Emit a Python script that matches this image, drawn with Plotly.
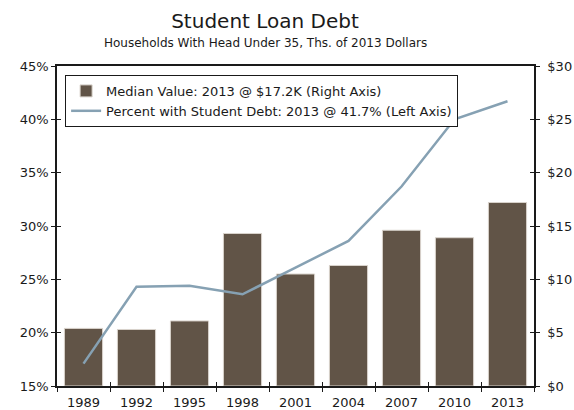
import plotly.graph_objects as go

years = ["1989", "1992", "1995", "1998", "2001", "2004", "2007", "2010", "2013"]
median_value = [5.4, 5.3, 6.1, 14.3, 10.5, 11.3, 14.6, 13.9, 17.2]      # $ thousands
pct_with_debt = [17.1, 24.3, 24.4, 23.6, 26.1, 28.6, 33.7, 40.0, 41.7]  # percent

left_ticks = [15, 20, 25, 30, 35, 40, 45]
left_labels = [f"{v}%" for v in left_ticks]
right_ticks = [0, 5, 10, 15, 20, 25, 30]
right_labels = [f"${v}" for v in right_ticks]

FONT = "DejaVu Sans, Verdana, sans-serif"
BAR = "#615447"
LINE = "#86a1b3"
INK = "#1a1a1a"

W, H = 574, 410
M_L, M_R, M_T, M_B = 57, 40, 66, 24
PLOT_W = W - M_L - M_R
PLOT_H = H - M_T - M_B
TITLE_CX = (265 - M_L) / PLOT_W   # heading block centre, in plot fractions

fig = go.Figure()
# bars on the dollar (right) axis, which is the base axis so the line draws above
fig.add_trace(go.Bar(
    x=years, y=median_value, yaxis="y", width=0.72,
    marker=dict(color=BAR, line=dict(color="#d9d3cc", width=1)),
    name="Median Value: 2013 @ $17.2K (Right Axis)",
))
fig.add_trace(go.Scatter(
    x=years, y=pct_with_debt, yaxis="y2", mode="lines",
    line=dict(color=LINE, width=2.5),
    name="Percent with Student Debt: 2013 @ 41.7% (Left Axis)",
))
# invisible helpers carrying the inner half of the crossing tick marks
fig.add_trace(go.Scatter(x=years, y=pct_with_debt, yaxis="y3", xaxis="x2",
                         mode="none", showlegend=False, hoverinfo="skip"))
fig.add_trace(go.Scatter(x=years, y=median_value, yaxis="y4", xaxis="x2",
                         mode="none", showlegend=False, hoverinfo="skip"))

common_tick = dict(ticklen=4, tickwidth=1, tickcolor=INK, showgrid=False,
                   zeroline=False, automargin=False)

fig.update_layout(
    width=W, height=H,
    margin=dict(l=M_L, r=M_R, t=M_T, b=M_B, autoexpand=False),
    paper_bgcolor="white", plot_bgcolor="white",
    font=dict(family=FONT, size=13, color=INK),
    title=dict(
        text="Student Loan Debt",
        x=TITLE_CX, xanchor="center", xref="paper",
        y=1 - 21 / H, yanchor="middle", yref="container",
        font=dict(family=FONT, size=20, color=INK),
    ),
    annotations=[dict(
        text="Households With Head Under 35, Ths. of 2013 Dollars",
        x=TITLE_CX, xref="paper", xanchor="center",
        y=1 + (M_T - 43) / PLOT_H, yref="paper", yanchor="middle",
        showarrow=False, font=dict(family=FONT, size=12, color=INK),
    )],
    showlegend=True,
    legend=dict(
        x=0.017, y=0.972, xanchor="left", yanchor="top",
        bgcolor="white", bordercolor=INK, borderwidth=1,
        font=dict(family=FONT, size=13, color=INK),
        traceorder="normal", itemwidth=30, tracegroupgap=0,
    ),
    xaxis=dict(
        type="category", categoryorder="array", categoryarray=years,
        range=[-0.5, 8.5], ticks="outside", tickson="boundaries",
        showline=True, linecolor=INK, linewidth=1.5, mirror=True,
        tickfont=dict(size=13), ticklabelstandoff=4, **common_tick,
    ),
    xaxis2=dict(
        type="category", categoryorder="array", categoryarray=years,
        range=[-0.5, 8.5], overlaying="x", ticks="inside", tickson="boundaries",
        showticklabels=False, showline=False, **common_tick,
    ),
    yaxis=dict(
        range=[0, 30], tickvals=right_ticks, ticktext=right_labels,
        side="right", ticks="outside",
        showline=True, linecolor=INK, linewidth=1.5,
        tickfont=dict(size=13), ticklabelstandoff=5, **common_tick,
    ),
    yaxis2=dict(
        range=[15, 45], tickvals=left_ticks, ticktext=left_labels,
        overlaying="y", side="left", ticks="outside",
        showline=True, linecolor=INK, linewidth=1.5,
        tickfont=dict(size=13), **common_tick,
    ),
    yaxis3=dict(
        range=[15, 45], tickvals=left_ticks, overlaying="y", side="left",
        ticks="inside", showticklabels=False, showline=False, **common_tick,
    ),
    yaxis4=dict(
        range=[0, 30], tickvals=right_ticks, overlaying="y", side="right",
        ticks="inside", showticklabels=False, showline=False, **common_tick,
    ),
)

fig.write_html("out.html")
